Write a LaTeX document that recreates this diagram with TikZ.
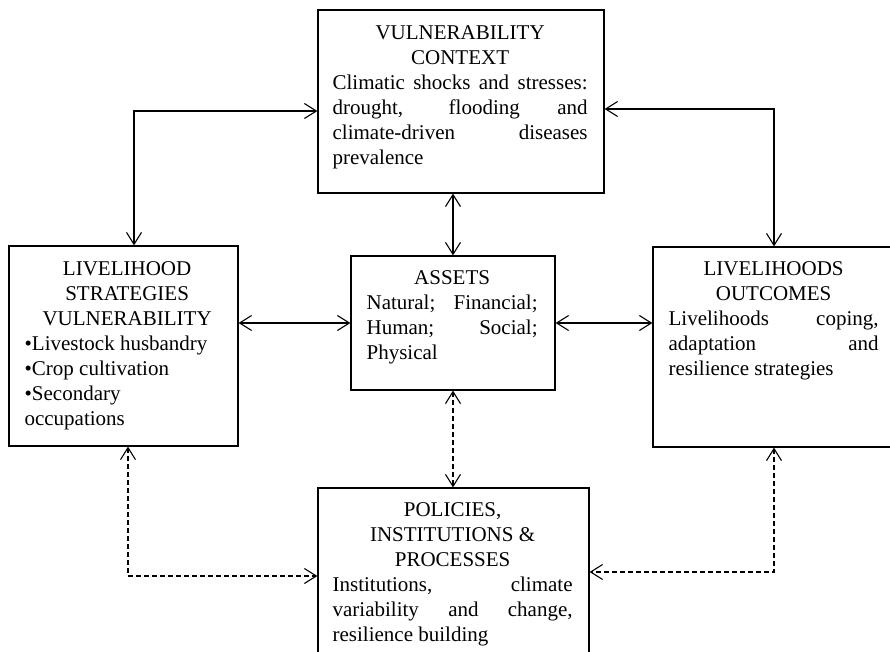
\documentclass[tikz,border=0pt]{standalone}
\usepackage{fontspec}
\setmainfont{Liberation Serif}
\usetikzlibrary{positioning,arrows.meta}

\begin{document}
\begin{tikzpicture}[x=1pt, y=-1pt,
		box/.style={draw, line width=1.2pt, inner sep=0pt},
		txt/.style={inner sep=0pt, font=\fontsize{21}{25}\selectfont, text width=#1, align=justify},
		link/.style={line width=1.1pt, {Straight Barb[length=12pt,width=15pt]}-{Straight Barb[length=12pt,width=15pt]}},
		dlink/.style={link, dash pattern=on 5pt off 3pt}]
			\useasboundingbox (0,0) rectangle (890,652);
			
			\node[box, minimum width=286pt, minimum height=183pt] (ctx) at (461,101.5) {};
			\node[box, minimum width=229pt, minimum height=200pt] (strat) at (123.5,346) {};
			\node[box, minimum width=204pt, minimum height=134pt] (assets) at (453,323) {};
			\node[box, minimum width=252pt, minimum height=200pt] (outc) at (779,347) {};
			\node[box, minimum width=271pt, minimum height=192pt] (pol) at (453.5,584) {};
			
			\node[txt=255pt, below right=16pt and 15pt of ctx.north west] (ctxtext) {\tolerance=9999
				{\centering VULNERABILITY\\CONTEXT\par}
				Climatic shocks and stresses:\linebreak drought, flooding and\linebreak climate-driven diseases\linebreak prevalence};
			\node[txt=205pt, below right=16pt and 16pt of strat.north west] (strattext) {
				{\centering LIVELIHOOD\\STRATEGIES\\VULNERABILITY\par}
				\raggedright\textbullet Livestock husbandry\\\textbullet Crop cultivation\\\textbullet Secondary\\occupations};
			\node[txt=171pt, below right=15pt and 16pt of assets.north west] (assetstext) {\tolerance=9999
				{\centering ASSETS\par}
				Natural; Financial;\linebreak Human; Social;\linebreak Physical};
			\node[txt=210pt, below right=15pt and 16pt of outc.north west] (outctext) {\tolerance=9999
				{\centering LIVELIHOODS\\OUTCOMES\par}
				Livelihoods coping,\linebreak adaptation and\linebreak resilience strategies};
			\node[txt=240pt, below right=15pt and 15pt of pol.north west] (poltext) {\tolerance=9999
				{\centering POLICIES,\\INSTITUTIONS \&\\PROCESSES\par}
				Institutions, climate\linebreak variability and change,\linebreak resilience building};
			
			\coordinate (tl) at (134,111);
			\coordinate (tr) at (774,109);
			\coordinate (bl) at (128,576);
			\coordinate (br) at (774,572);
			
			\draw[link] (ctx.west |- tl) -| (strat.north -| tl);
			\draw[link] (ctx.east |- tr) -| (outc.north -| tr);
			\draw[link] (ctx.south -| assets.north) -- (assets.north);
			\draw[link] (strat.east |- assets.west) -- (assets.west);
			\draw[link] (assets.east) -- (outc.west |- assets.east);
			\draw[dlink] (assets.south) -- (pol.north -| assets.south);
			\draw[dlink] (strat.south -| bl) |- (pol.west |- bl);
			\draw[dlink] (outc.south -| br) |- (pol.east |- br);
		\end{tikzpicture}
\end{document}
